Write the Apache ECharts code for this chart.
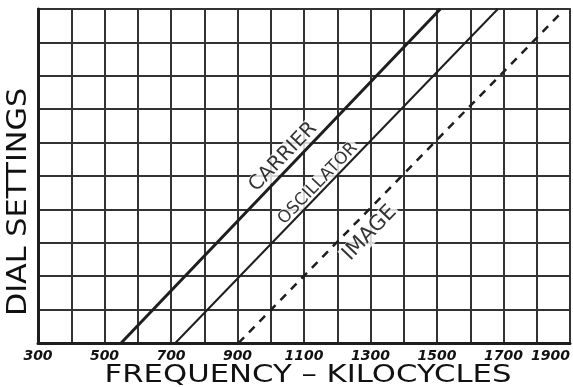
<!DOCTYPE html>
<html>
<head>
<meta charset="utf-8">
<script src="https://cdn.jsdelivr.net/npm/echarts@6/dist/echarts.min.js"></script>
<style>
html,body{margin:0;padding:0;background:#fff;}
#c{width:573px;height:387px;}
</style>
</head>
<body>
<div id="c"></div>
<script>
// Frequency (kc) vs dial setting (0-10)
const carrier = [[550, 0], [1510, 10]];
const oscillator = [[713, 0], [1683, 10]];
const image = [[903, 0], [1870, 9.85]];
const xTickLabels = [300, 500, 700, 900, 1100, 1300, 1500, 1700, 1900];
const labelNames = ['CARRIER', 'OSCILLATOR', 'IMAGE'];
const labelPositions = [[1037, 5.57], [1142, 4.77], [1298, 3.29]];
const xTitle = 'FREQUENCY – KILOCYCLES';
const yTitle = 'DIAL SETTINGS';

const chart = echarts.init(document.getElementById('c'), null, { renderer: 'canvas' });
const ink = '#1e1e1e';
const labelSizes = [20, 17, 21];

chart.setOption({
  animation: false,
  backgroundColor: '#fff',
  grid: { left: 38, right: 3, top: 9, bottom: 44, show: true, borderColor: '#555', borderWidth: 2, backgroundColor: 'transparent' },
  xAxis: {
    type: 'value', min: 300, max: 1900, interval: 100,
    axisLine: { show: true, onZero: false, lineStyle: { color: ink, width: 3 } },
    axisTick: { show: false },
    splitLine: { show: true, lineStyle: { color: '#333', width: 2 } },
    axisLabel: {
      margin: 6, color: '#111', fontFamily: 'DejaVu Sans', fontStyle: 'italic', fontWeight: 'bold', fontSize: 14,
      alignMaxLabel: 'right',
      formatter: v => xTickLabels.indexOf(v) >= 0 ? String(v) : ''
    }
  },
  yAxis: {
    type: 'value', min: 0, max: 10, interval: 1,
    axisLine: { show: true, onZero: false, lineStyle: { color: ink, width: 3 } },
    axisTick: { show: false },
    axisLabel: { show: false },
    splitLine: { show: true, lineStyle: { color: '#333', width: 2 } }
  },
  graphic: [
    { type: 'text', x: 308, y: 376, scaleX: 1.28, z: 10,
      style: { text: xTitle, font: '24px "DejaVu Sans"', fill: '#111', textAlign: 'center', textVerticalAlign: 'middle' } },
    { type: 'text', x: 19, y: 202, rotation: Math.PI / 2, scaleX: 1.12, z: 10,
      style: { text: yTitle, font: '27px "DejaVu Sans"', fill: '#111', textAlign: 'center', textVerticalAlign: 'middle' } }
  ],
  series: [
    {
      type: 'scatter', z: 1, symbolSize: 0, silent: true,
      data: labelNames.map((n, i) => ({
        name: n, value: labelPositions[i],
        label: { fontSize: labelSizes[i] }
      })),
      label: {
        show: true, position: 'inside', rotate: 46,
        formatter: p => p.name,
        color: '#000', fontFamily: 'DejaVu Sans',
        backgroundColor: '#fff', padding: [0, 2]
      }
    },
    { type: 'line', z: 3, name: 'Carrier', data: carrier, symbol: 'none',
      lineStyle: { color: ink, width: 3 } },
    { type: 'line', z: 3, name: 'Oscillator', data: oscillator, symbol: 'none',
      lineStyle: { color: ink, width: 2 } },
    { type: 'line', z: 3, name: 'Image', data: image, symbol: 'none',
      lineStyle: { color: ink, width: 2.5, type: [8, 7] } }
  ]
});
</script>
</body>
</html>
